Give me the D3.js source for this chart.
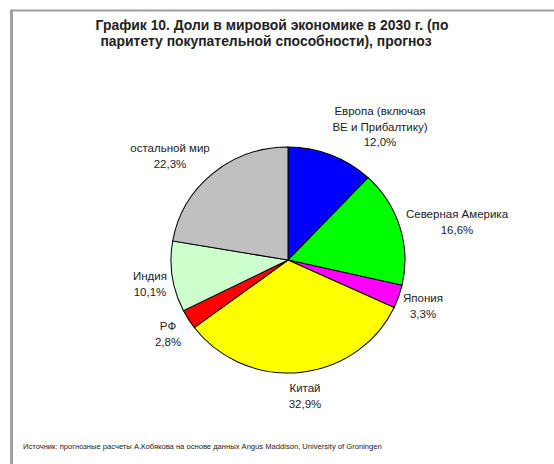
<!DOCTYPE html>
<html><head><meta charset="utf-8">
<script src="https://cdn.jsdelivr.net/npm/d3@7"></script>
<style>body{margin:0;background:#fff}svg{display:block}text{font-family:"Liberation Sans",Arial,sans-serif;fill:#222}</style>
</head><body>
<script>
const categories = ["Европа (включая ВЕ и Прибалтику)","Северная Америка","Япония","Китай","РФ","Индия","остальной мир"];
const values = [12.0,16.6,3.3,32.9,2.8,10.1,22.3];
const colors = ["#0000FF","#00FF00","#FF00FF","#FFFF00","#FF0000","#CCFFCC","#C0C0C0"];
const labelLines = [["Европа (включая","ВЕ и Прибалтику)"],["Северная Америка"],["Япония"],["Китай"],["РФ"],["Индия"],["остальной мир"]];
const labelPos = [[380,111],[457,214],[423,298],[305,388],[168,326],[150,276],[170,148]];

const W=554,H=464;
const svg=d3.select("body").append("svg").attr("width",W).attr("height",H);
svg.append("rect").attr("x",0).attr("y",0).attr("width",W).attr("height",H).attr("fill","#fff");
svg.append("line").attr("x1",10).attr("x2",W).attr("y1",10.5).attr("y2",10.5).attr("stroke","#a0a0a0").attr("stroke-width",2);
svg.append("line").attr("x1",11.5).attr("x2",11.5).attr("y1",10).attr("y2",H).attr("stroke","#a0a0a0").attr("stroke-width",3);

const title=svg.append("text").attr("text-anchor","middle").attr("font-weight","bold").attr("font-size",13.9);
title.append("tspan").attr("x",272).attr("y",30).text("График 10. Доли в мировой экономике в 2030 г. (по");
title.append("tspan").attr("x",266).attr("y",46).text("паритету покупательной способности), прогноз");

const data=categories.map((c,i)=>({c,v:values[i],i}));
const pie=d3.pie().value(d=>d.v).sort(null);
const R=113;
const arc=d3.arc().innerRadius(0).outerRadius(R);
const g=svg.append("g").attr("transform","translate(288,260) scale(1.035,1)");
g.selectAll("path").data(pie(data)).join("path")
 .attr("d",arc).attr("fill",d=>colors[d.data.i]).attr("stroke","#000").attr("stroke-width",1);

const fmt=v=>v.toFixed(1).replace(".",",")+"%";
data.forEach((d,i)=>{
  const t=svg.append("text").attr("text-anchor","middle").attr("font-size",11.5).attr("fill","#333");
  const lines=labelLines[i].concat([fmt(d.v)]);
  lines.forEach((l,k)=>t.append("tspan").attr("x",labelPos[i][0]).attr("y",labelPos[i][1]+4+k*15.5).text(l));
});

svg.append("text").attr("x",23).attr("y",449).attr("font-size",7.6).attr("fill","#444")
 .text("Источник: прогнозные расчеты А.Кобякова на основе данных Angus Maddison, University of Groningen");
</script>
</body></html>
